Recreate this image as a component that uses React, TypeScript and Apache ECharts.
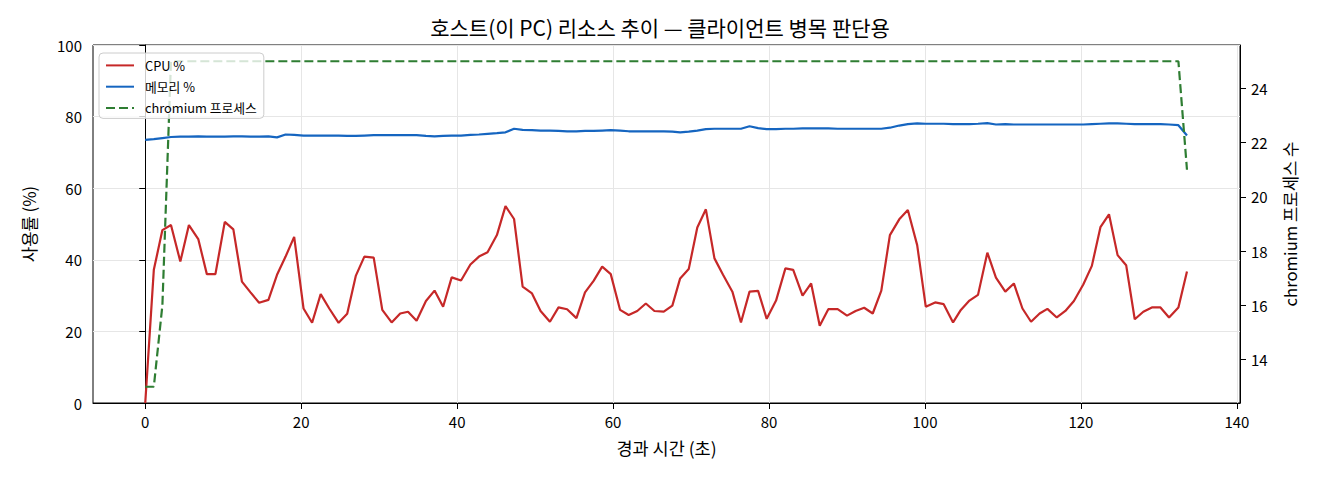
import { useEffect, useRef } from 'react';
import * as echarts from 'echarts';

const FONT = "'Noto Sans CJK KR', 'Noto Sans', sans-serif";

// elapsed time (s) per sample
const times = [
  0.0, 1.1, 2.2, 3.3, 4.5, 5.6, 6.8, 7.9, 9.0, 10.2,
  11.3, 12.4, 13.5, 14.6, 15.8, 16.9, 18.0, 19.1, 20.3, 21.4,
  22.5, 23.6, 24.8, 25.9, 27.0, 28.1, 29.3, 30.4, 31.6, 32.7,
  33.7, 34.8, 36.0, 37.1, 38.2, 39.3, 40.5, 41.7, 42.8, 43.9,
  45.1, 46.2, 47.3, 48.4, 49.6, 50.7, 51.9, 53.0, 54.1, 55.3,
  56.4, 57.5, 58.6, 59.7, 60.9, 62.0, 63.1, 64.2, 65.3, 66.5,
  67.6, 68.6, 69.7, 70.8, 71.9, 73.0, 74.1, 75.3, 76.4, 77.5,
  78.6, 79.7, 80.9, 82.1, 83.1, 84.3, 85.4, 86.5, 87.6, 88.8,
  90.0, 91.1, 92.2, 93.3, 94.4, 95.5, 96.7, 97.8, 99.0, 100.1,
  101.3, 102.4, 103.6, 104.6, 105.7, 106.8, 108.0, 109.1, 110.3, 111.4,
  112.5, 113.6, 114.7, 115.7, 116.9, 118.0, 119.1, 120.3, 121.4, 122.5,
  123.6, 124.7, 125.8, 126.9, 128.0, 129.1, 130.2, 131.3, 132.5, 133.6,
];

const cpu = [
  0, 37.2, 48.3, 49.7, 39.5, 49.7, 45.8, 36.0, 36.0, 50.6,
  48.5, 33.9, 30.9, 28.0, 28.8, 35.8, 40.9, 46.4, 26.4, 22.4,
  30.4, 26.4, 22.4, 24.9, 35.5, 40.9, 40.6, 26.0, 22.5, 25.0,
  25.5, 23.0, 28.5, 31.4, 26.9, 35.1, 34.2, 38.7, 40.9, 42.1,
  46.9, 55.0, 51.4, 32.5, 30.6, 25.7, 22.7, 26.7, 26.2, 23.7,
  30.9, 34.1, 38.1, 36.0, 26.0, 24.6, 25.7, 27.8, 25.7, 25.5,
  27.2, 34.8, 37.4, 49.0, 54.1, 40.4, 35.8, 31.1, 22.5, 31.1,
  31.3, 23.5, 28.6, 37.6, 37.2, 30.0, 33.4, 21.6, 26.2, 26.2,
  24.4, 25.7, 26.6, 25.0, 31.4, 46.9, 51.3, 53.9, 44.1, 26.9,
  28.1, 27.6, 22.5, 26.0, 28.6, 30.2, 42.0, 35.0, 31.1, 33.4,
  26.4, 22.7, 25.0, 26.3, 23.9, 25.7, 28.5, 33.1, 38.3, 49.1,
  52.7, 41.3, 38.5, 23.4, 25.5, 26.7, 26.7, 23.9, 26.7, 36.7,
];

const memory = [
  73.5, 73.7, 74.0, 74.3, 74.4, 74.4, 74.5, 74.4, 74.4, 74.4,
  74.5, 74.5, 74.4, 74.4, 74.5, 74.2, 75.0, 74.9, 74.7, 74.7,
  74.7, 74.7, 74.7, 74.6, 74.6, 74.7, 74.8, 74.8, 74.8, 74.8,
  74.8, 74.8, 74.6, 74.5, 74.6, 74.7, 74.7, 74.9, 75.0, 75.2,
  75.4, 75.6, 76.6, 76.3, 76.2, 76.1, 76.1, 76.0, 75.9, 75.9,
  76.0, 76.0, 76.1, 76.2, 76.1, 75.9, 75.9, 75.9, 75.9, 75.9,
  75.8, 75.6, 75.8, 76.1, 76.5, 76.6, 76.6, 76.6, 76.6, 77.3,
  76.8, 76.5, 76.5, 76.6, 76.6, 76.7, 76.7, 76.7, 76.7, 76.6,
  76.6, 76.6, 76.6, 76.6, 76.6, 76.9, 77.5, 77.9, 78.1, 78.0,
  78.0, 78.0, 77.9, 77.9, 77.9, 78.0, 78.2, 77.8, 77.9, 77.8,
  77.8, 77.8, 77.8, 77.8, 77.8, 77.8, 77.8, 77.8, 77.9, 78.0,
  78.1, 78.1, 78.0, 77.9, 77.9, 77.9, 77.9, 77.8, 77.6, 74.7,
];

const procs = [
  13, 13, 16, 25, 25, 25, 25, 25, 25, 25,
  25, 25, 25, 25, 25, 25, 25, 25, 25, 25,
  25, 25, 25, 25, 25, 25, 25, 25, 25, 25,
  25, 25, 25, 25, 25, 25, 25, 25, 25, 25,
  25, 25, 25, 25, 25, 25, 25, 25, 25, 25,
  25, 25, 25, 25, 25, 25, 25, 25, 25, 25,
  25, 25, 25, 25, 25, 25, 25, 25, 25, 25,
  25, 25, 25, 25, 25, 25, 25, 25, 25, 25,
  25, 25, 25, 25, 25, 25, 25, 25, 25, 25,
  25, 25, 25, 25, 25, 25, 25, 25, 25, 25,
  25, 25, 25, 25, 25, 25, 25, 25, 25, 25,
  25, 25, 25, 25, 25, 25, 25, 25, 25, 21,
];

const xTicks = [0, 20, 40, 60, 80, 100, 120, 140];
const procTicks = [14, 16, 18, 20, 22, 24];

const GRID_COLOR = '#e6e6e6';
const TEXT = '#000';

function pairs(values: number[]) {
  return values.map((v, i) => [times[i], v]);
}

export default function App() {
  const ref = useRef<HTMLDivElement>(null);

  useEffect(() => {
    document.body.style.margin = '0';
    if (!ref.current) return;
    const chart = echarts.init(ref.current, undefined, { renderer: 'svg' });

    const axisLabel = { color: TEXT, fontSize: 15, fontFamily: FONT, margin: 11 };
    const axisTick = { show: true, length: 6, lineStyle: { color: '#000', width: 1 } };
    const axisLine = { show: true, lineStyle: { color: '#000', width: 1 } };
    const nameTextStyle = { color: TEXT, fontSize: 16.7, fontFamily: FONT };

    chart.setOption({
      animation: false,
      backgroundColor: '#fff',
      title: {
        text: '호스트(이 PC) 리소스 추이 — 클라이언트 병목 판단용',
        left: 'center',
        top: 11,
        textStyle: { color: TEXT, fontSize: 21, fontWeight: 'normal', fontFamily: FONT },
      },
      legend: {
        orient: 'vertical',
        left: 99,
        top: 53,
        padding: [6, 7, 4, 6],
        itemWidth: 28,
        itemHeight: 14,
        itemGap: 8.5,
        itemStyle: { opacity: 0 },
        backgroundColor: 'rgba(255,255,255,0.8)',
        borderColor: '#cccccc',
        borderWidth: 1,
        borderRadius: 4,
        textStyle: { color: TEXT, fontSize: 12.8, fontFamily: FONT, padding: [0, 0, 0, 6] },
        data: ['CPU %', '메모리 %', 'chromium 프로세스'],
      },
      grid: {
        left: 93,
        right: 80,
        top: 45,
        bottom: 77,
        show: true,
        borderColor: '#000',
        borderWidth: 1,
        backgroundColor: 'transparent',
      },
      xAxis: {
        type: 'value',
        min: -6.7,
        max: 140.4,
        name: '경과 시간 (초)',
        nameLocation: 'middle',
        nameGap: 36,
        nameTextStyle: { ...nameTextStyle, fontSize: 17.5 },
        axisLine,
        axisTick: { ...axisTick, customValues: xTicks },
        axisLabel: { ...axisLabel, customValues: xTicks },
        splitLine: { show: true, lineStyle: { color: GRID_COLOR, width: 1 } },
      },
      yAxis: [
        {
          type: 'value',
          position: 'left',
          min: 0,
          max: 100,
          interval: 20,
          name: '사용률 (%)',
          nameLocation: 'middle',
          nameRotate: 90,
          nameGap: 56,
          nameTextStyle,
          axisLine,
          axisTick,
          axisLabel,
          splitLine: { show: true, lineStyle: { color: GRID_COLOR, width: 1 } },
        },
        {
          type: 'value',
          position: 'right',
          min: 12.4,
          max: 25.6,
          name: 'chromium 프로세스 수',
          nameLocation: 'middle',
          nameRotate: 90,
          nameGap: 42,
          nameTextStyle,
          axisLine,
          axisTick: { ...axisTick, customValues: procTicks },
          axisLabel: { ...axisLabel, customValues: procTicks },
          splitLine: { show: false },
        },
      ],
      series: [
        {
          name: 'CPU %',
          type: 'line',
          yAxisIndex: 0,
          symbol: 'none',
          color: '#c62828',
          lineStyle: { color: '#c62828', width: 2.2 },
          data: pairs(cpu),
        },
        {
          name: '메모리 %',
          type: 'line',
          yAxisIndex: 0,
          symbol: 'none',
          color: '#1565c0',
          lineStyle: { color: '#1565c0', width: 2.2 },
          data: pairs(memory),
        },
        {
          name: 'chromium 프로세스',
          type: 'line',
          yAxisIndex: 1,
          symbol: 'none',
          color: '#2e7d32',
          lineStyle: { color: '#2e7d32', width: 2.2, type: [9, 4] },
          data: pairs(procs),
        },
      ],
    });

    return () => {
      chart.dispose();
    };
  }, []);

  return <div ref={ref} style={{ width: 1320, height: 480 }} />;
}
